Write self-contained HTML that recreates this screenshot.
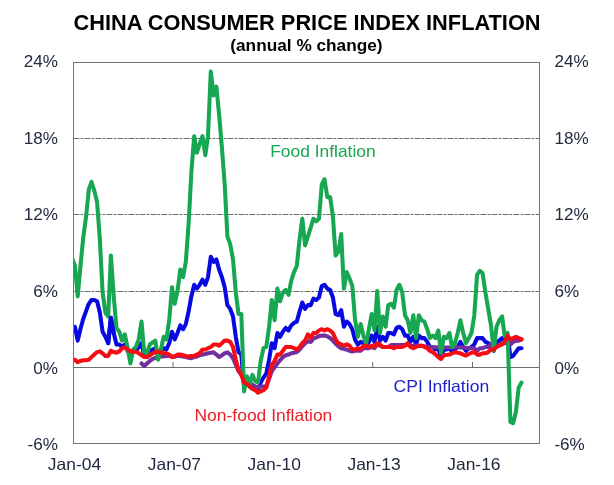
<!DOCTYPE html>
<html><head><meta charset="utf-8"><title>China Consumer Price Index Inflation</title>
<style>
html,body{margin:0;padding:0;background:#fff;}
svg{display:block}
text{font-family:"Liberation Sans",Arial,sans-serif;}
</style></head><body>
<svg width="614" height="485" viewBox="0 0 614 485">
<rect width="614" height="485" fill="#ffffff"/>

<line x1="73.5" x2="539.5" y1="138.5" y2="138.5" stroke="#6c6c6c" stroke-width="1" stroke-dasharray="5.9,1.2,2.7,1.2"/>
<line x1="73.5" x2="539.5" y1="214.5" y2="214.5" stroke="#6c6c6c" stroke-width="1" stroke-dasharray="5.9,1.2,2.7,1.2"/>
<line x1="73.5" x2="539.5" y1="291.5" y2="291.5" stroke="#6c6c6c" stroke-width="1" stroke-dasharray="5.9,1.2,2.7,1.2"/>
<line x1="73.5" x2="539.5" y1="367.5" y2="367.5" stroke="#6e6e6e" stroke-width="1"/>
<line x1="173.0" x2="173.0" y1="367.5" y2="362.0" stroke="#6a6a6a" stroke-width="1"/>
<line x1="272.8" x2="272.8" y1="367.5" y2="362.0" stroke="#6a6a6a" stroke-width="1"/>
<line x1="372.7" x2="372.7" y1="367.5" y2="362.0" stroke="#6a6a6a" stroke-width="1"/>
<line x1="472.5" x2="472.5" y1="367.5" y2="362.0" stroke="#6a6a6a" stroke-width="1"/>
<clipPath id="pc"><rect x="73.5" y="62.5" width="466.0" height="381.0"/></clipPath>
<g fill="none" stroke-width="4.05" stroke-linejoin="round" stroke-linecap="round" clip-path="url(#pc)">
<polyline stroke="#0808e0" points="72.1,326.7 74.9,326.7 77.7,340.6 80.4,329.2 83.2,319.0 86.0,311.4 88.8,303.8 91.5,300.0 94.3,300.0 97.1,301.3 99.9,312.7 102.6,331.7 105.4,336.8 108.2,343.2 110.9,317.8 113.7,333.0 116.5,344.4 119.3,344.4 122.0,347.0 124.8,344.4 127.6,350.8 130.4,355.9 133.1,352.1 135.9,350.8 138.7,347.0 141.5,343.2 144.2,355.9 147.0,357.1 149.8,352.1 152.6,349.5 155.3,348.2 158.1,354.6 160.9,350.8 163.6,348.2 166.4,349.5 169.2,343.2 172.0,331.7 174.7,339.4 177.5,333.0 180.3,325.4 183.1,329.2 185.8,324.1 188.6,311.4 191.4,296.2 194.2,284.8 196.9,288.6 199.7,284.8 202.5,279.7 205.3,284.8 208.0,277.1 210.8,256.8 213.6,261.9 216.4,259.4 219.1,269.5 221.9,277.1 224.7,287.3 227.4,305.1 230.2,308.9 233.0,316.5 235.8,336.8 238.5,352.1 241.3,354.6 244.1,387.6 246.9,382.5 249.6,386.4 252.4,385.1 255.2,388.9 258.0,390.2 260.7,382.5 263.5,377.5 266.3,373.7 269.1,359.7 271.8,343.2 274.6,348.2 277.4,333.0 280.1,336.8 282.9,331.7 285.7,327.9 288.5,330.5 291.2,325.4 294.0,322.9 296.8,321.6 299.6,311.4 302.3,302.5 305.1,308.9 307.9,305.1 310.7,305.1 313.4,298.7 316.2,300.0 319.0,297.5 321.8,286.0 324.5,284.8 327.3,288.6 330.1,289.8 332.9,297.5 335.6,314.0 338.4,315.2 341.2,310.2 343.9,326.7 346.7,321.6 349.5,324.1 352.3,329.2 355.0,339.4 357.8,344.4 360.6,341.9 363.4,343.2 366.1,345.7 368.9,341.9 371.7,335.6 374.5,341.9 377.2,326.7 380.0,340.6 382.8,336.8 385.6,340.6 388.3,333.0 391.1,333.0 393.9,334.3 396.6,327.9 399.4,326.7 402.2,329.2 405.0,335.6 407.7,335.6 410.5,341.9 413.3,336.8 416.1,344.4 418.8,335.6 421.6,338.1 424.4,338.1 427.2,341.9 429.9,347.0 432.7,347.0 435.5,349.5 438.3,348.2 441.0,357.1 443.8,349.5 446.6,349.5 449.4,348.2 452.1,352.1 454.9,349.5 457.7,347.0 460.4,341.9 463.2,347.0 466.0,350.8 468.8,348.2 471.5,347.0 474.3,344.4 477.1,338.1 479.9,338.1 482.6,338.1 485.4,341.9 488.2,343.2 491.0,344.4 493.7,350.8 496.5,343.2 499.3,340.6 502.1,338.1 504.8,340.6 507.6,335.6 510.4,357.1 513.1,355.9 515.9,352.1 518.7,348.2 521.5,348.2"/>
<polyline stroke="#7030a0" points="141.5,363.5 144.2,366.0 147.0,363.5 149.8,360.9 152.6,359.0 155.3,357.8 158.1,356.5 160.9,356.5 163.6,356.5 166.4,355.9 169.2,355.9 172.0,356.5 174.7,356.5 177.5,355.9 180.3,355.9 183.1,356.5 185.8,357.1 188.6,357.8 191.4,358.2 194.2,357.1 196.9,356.5 199.7,355.2 202.5,354.6 205.3,354.0 208.0,353.3 210.8,352.7 213.6,352.3 216.4,354.6 219.1,357.1 221.9,355.2 224.7,353.3 227.4,352.3 230.2,354.6 233.0,358.4 235.8,364.8 238.5,371.1 241.3,374.9 244.1,378.7 246.9,380.0 249.6,382.5 252.4,385.1 255.2,386.4 258.0,387.6 260.7,386.4 263.5,386.4 266.3,386.4 269.1,378.7 271.8,371.1 274.6,367.3 277.4,363.5 280.1,360.3 282.9,357.1 285.7,355.2 288.5,354.6 291.2,353.3 294.0,352.7 296.8,352.1 299.6,349.5 302.3,346.3 305.1,343.2 307.9,341.3 310.7,341.9 313.4,338.7 316.2,337.5 319.0,336.2 321.8,335.6 324.5,335.6 327.3,336.2 330.1,338.1 332.9,340.6 335.6,343.8 338.4,346.3 341.2,348.2 343.9,348.9 346.7,349.5 349.5,350.8 352.3,351.4 355.0,350.8 357.8,350.8 360.6,350.8 363.4,348.2 366.1,348.2 368.9,348.2 371.7,347.0 374.5,348.2 377.2,344.4 380.0,345.7 382.8,347.0 385.6,347.0 388.3,347.0 391.1,345.1 393.9,345.1 396.6,345.1 399.4,345.1 402.2,345.1 405.0,345.1 407.7,344.4 410.5,345.7 413.3,345.7 416.1,345.7 418.8,345.7 421.6,345.7 424.4,346.3 427.2,346.7 429.9,346.7 432.7,347.0 435.5,347.2 438.3,347.5 441.0,347.6 443.8,347.5 446.6,347.4 449.4,347.4 452.1,347.4 454.9,347.2 457.7,347.2 460.4,347.5 463.2,347.6 466.0,347.9 468.8,348.0 471.5,348.2 474.3,348.2 477.1,350.8 479.9,348.2 482.6,348.2 485.4,347.0 488.2,347.0 491.0,344.4 493.7,347.0 496.5,345.7 499.3,344.4 502.1,343.2 504.8,343.2 507.6,339.4 510.4,344.4 513.1,341.9 515.9,340.6 518.7,340.6 521.5,339.4"/>
<polyline stroke="#17a651" points="72.1,258.1 74.9,265.7 77.7,296.2 80.4,267.0 83.2,237.8 86.0,217.4 88.8,189.5 91.5,181.9 94.3,190.8 97.1,202.2 99.9,240.3 102.6,292.4 105.4,312.7 108.2,316.5 110.9,255.5 113.7,296.2 116.5,327.9 119.3,331.7 122.0,340.6 124.8,334.3 127.6,348.2 130.4,363.5 133.1,349.5 135.9,347.0 138.7,339.4 141.5,321.6 144.2,352.1 147.0,353.3 149.8,344.4 152.6,342.5 155.3,340.6 158.1,359.7 160.9,349.5 163.6,336.8 166.4,339.4 169.2,320.3 172.0,287.3 174.7,303.8 177.5,291.1 180.3,269.5 183.1,277.1 185.8,261.9 188.6,223.8 191.4,171.7 194.2,136.2 196.9,152.7 199.7,143.8 202.5,136.2 205.3,155.2 208.0,136.2 210.8,71.4 213.6,95.5 216.4,86.6 219.1,114.6 221.9,147.6 224.7,184.4 227.4,236.5 230.2,244.1 233.0,259.4 235.8,292.4 238.5,314.0 241.3,314.0 244.1,391.4 246.9,376.2 249.6,383.8 252.4,374.9 255.2,381.3 258.0,382.5 260.7,360.9 263.5,348.2 266.3,347.0 269.1,326.7 271.8,300.0 274.6,320.3 277.4,288.6 280.1,301.3 282.9,292.4 285.7,289.8 288.5,294.9 291.2,280.9 294.0,272.1 296.8,265.7 299.6,239.0 302.3,218.7 305.1,245.4 307.9,236.5 310.7,227.6 313.4,218.7 316.2,221.3 319.0,218.7 321.8,184.4 324.5,179.3 327.3,197.1 330.1,197.1 332.9,216.2 335.6,255.5 338.4,251.7 341.2,234.0 343.9,288.6 346.7,272.1 349.5,278.4 352.3,286.0 355.0,319.0 357.8,336.8 360.6,324.1 363.4,335.6 366.1,344.4 368.9,329.2 371.7,314.0 374.5,330.5 377.2,291.1 380.0,333.0 382.8,316.5 385.6,326.7 388.3,305.1 391.1,303.8 393.9,307.6 396.6,289.8 399.4,284.8 402.2,292.4 405.0,315.2 407.7,320.3 410.5,333.0 413.3,315.2 416.1,338.1 418.8,315.2 421.6,320.3 424.4,321.6 427.2,329.2 429.9,338.1 432.7,335.6 435.5,338.1 438.3,330.5 441.0,353.3 443.8,336.8 446.6,338.1 449.4,333.0 452.1,347.0 454.9,343.2 457.7,333.0 460.4,320.3 463.2,333.0 466.0,343.2 468.8,338.1 471.5,333.0 474.3,315.2 477.1,274.6 479.9,270.8 482.6,273.3 485.4,292.4 488.2,308.9 491.0,325.4 493.7,350.8 496.5,326.7 499.3,320.3 502.1,316.5 504.8,336.8 507.6,333.0 510.4,421.9 513.1,423.2 515.9,411.8 518.7,387.6 521.5,382.5"/>
<polyline stroke="#0808e0" points="108.2,343.2 110.9,317.8 113.7,333.0"/>
<polyline stroke="#f60d14" points="72.1,359.7 74.9,359.7 77.7,362.2 80.4,360.9 83.2,360.3 86.0,360.3 88.8,359.7 91.5,357.1 94.3,354.6 97.1,352.1 99.9,351.4 102.6,353.3 105.4,355.9 108.2,355.9 110.9,350.8 113.7,352.1 116.5,352.7 119.3,351.4 122.0,348.2 124.8,347.6 127.6,349.5 130.4,351.2 133.1,351.7 135.9,351.7 138.7,353.1 141.5,355.2 144.2,357.1 147.0,356.9 149.8,355.4 152.6,353.3 155.3,352.1 158.1,351.4 160.9,352.7 163.6,353.3 166.4,353.3 169.2,354.6 172.0,357.1 174.7,356.5 177.5,354.6 180.3,354.6 183.1,355.2 185.8,355.9 188.6,356.5 191.4,355.9 194.2,355.9 196.9,354.6 199.7,353.3 202.5,349.5 205.3,349.5 208.0,348.2 210.8,347.0 213.6,344.4 216.4,344.4 219.1,345.7 221.9,343.2 224.7,340.6 227.4,340.6 230.2,341.9 233.0,347.0 235.8,359.7 238.5,369.8 241.3,374.9 244.1,382.5 246.9,383.8 249.6,386.4 252.4,388.9 255.2,390.2 258.0,392.7 260.7,391.4 263.5,390.2 266.3,387.6 269.1,376.2 271.8,364.8 274.6,360.9 277.4,354.6 280.1,354.6 282.9,350.8 285.7,347.0 288.5,347.0 291.2,347.0 294.0,348.2 296.8,349.5 299.6,347.0 302.3,343.2 305.1,340.6 307.9,334.3 310.7,338.1 313.4,333.0 316.2,333.0 319.0,330.5 321.8,329.2 324.5,330.5 327.3,329.2 330.1,330.5 332.9,333.0 335.6,339.4 338.4,343.2 341.2,344.4 343.9,345.7 346.7,344.4 349.5,345.7 352.3,349.5 355.0,349.5 357.8,348.2 360.6,349.5 363.4,345.7 366.1,345.7 368.9,347.0 371.7,345.7 374.5,347.0 377.2,343.2 380.0,344.4 382.8,347.0 385.6,347.0 388.3,347.0 391.1,347.0 393.9,348.2 396.6,347.0 399.4,347.0 402.2,347.0 405.0,345.7 407.7,343.2 410.5,347.0 413.3,348.2 416.1,347.0 418.8,345.7 421.6,345.7 424.4,347.0 427.2,348.2 429.9,350.8 432.7,352.1 435.5,354.6 438.3,357.1 441.0,359.0 443.8,355.2 446.6,354.9 449.4,354.6 452.1,353.3 454.9,352.3 457.7,352.7 460.4,353.3 463.2,354.6 466.0,355.6 468.8,354.0 471.5,352.7 474.3,352.1 477.1,354.6 479.9,354.6 482.6,353.3 485.4,353.3 488.2,352.1 491.0,349.5 493.7,349.5 496.5,347.0 499.3,345.7 502.1,344.4 504.8,341.9 507.6,335.6 510.4,339.4 513.1,338.1 515.9,336.8 518.7,338.1 521.5,339.4"/>
</g>
<rect x="73.5" y="62.5" width="466.0" height="381.0" fill="none" stroke="#767676" stroke-width="1"/>
<text x="73.6" y="29.6" font-size="21.2" font-weight="bold" fill="#000" textLength="467" lengthAdjust="spacingAndGlyphs">CHINA CONSUMER PRICE INDEX INFLATION</text>
<text x="230.3" y="51.1" font-size="15.7" font-weight="bold" fill="#000" textLength="152.3" lengthAdjust="spacingAndGlyphs">(annual % change)</text>
<text transform="translate(57.9 67.1) scale(1.050 1)" text-anchor="end" font-size="16.3" fill="#222a40">24%</text>
<text transform="translate(554.4 67.1) scale(1.050 1)" text-anchor="start" font-size="16.3" fill="#222a40">24%</text>
<text transform="translate(57.9 143.7) scale(1.050 1)" text-anchor="end" font-size="16.3" fill="#222a40">18%</text>
<text transform="translate(554.4 143.7) scale(1.050 1)" text-anchor="start" font-size="16.3" fill="#222a40">18%</text>
<text transform="translate(57.9 220.3) scale(1.050 1)" text-anchor="end" font-size="16.3" fill="#222a40">12%</text>
<text transform="translate(554.4 220.3) scale(1.050 1)" text-anchor="start" font-size="16.3" fill="#222a40">12%</text>
<text transform="translate(57.9 296.9) scale(1.050 1)" text-anchor="end" font-size="16.3" fill="#222a40">6%</text>
<text transform="translate(554.4 296.9) scale(1.050 1)" text-anchor="start" font-size="16.3" fill="#222a40">6%</text>
<text transform="translate(57.9 373.5) scale(1.050 1)" text-anchor="end" font-size="16.3" fill="#222a40">0%</text>
<text transform="translate(554.4 373.5) scale(1.050 1)" text-anchor="start" font-size="16.3" fill="#222a40">0%</text>
<text transform="translate(57.9 450.2) scale(1.050 1)" text-anchor="end" font-size="16.3" fill="#222a40">-6%</text>
<text transform="translate(554.4 450.2) scale(1.050 1)" text-anchor="start" font-size="16.3" fill="#222a40">-6%</text>
<text transform="translate(74.5 470.4) scale(1.070 1)" text-anchor="middle" font-size="16.3" fill="#222a40">Jan-04</text>
<text transform="translate(174.4 470.4) scale(1.070 1)" text-anchor="middle" font-size="16.3" fill="#222a40">Jan-07</text>
<text transform="translate(274.2 470.4) scale(1.070 1)" text-anchor="middle" font-size="16.3" fill="#222a40">Jan-10</text>
<text transform="translate(374.1 470.4) scale(1.070 1)" text-anchor="middle" font-size="16.3" fill="#222a40">Jan-13</text>
<text transform="translate(473.9 470.4) scale(1.070 1)" text-anchor="middle" font-size="16.3" fill="#222a40">Jan-16</text>
<text x="270.2" y="156.8" font-size="16.7" fill="#17a651" textLength="105.5" lengthAdjust="spacingAndGlyphs">Food Inflation</text>
<text x="393.5" y="391.5" font-size="16.7" fill="#2020cc" textLength="95.7" lengthAdjust="spacingAndGlyphs">CPI Inflation</text>
<text x="194.5" y="420.7" font-size="16.7" fill="#e8202a" textLength="137.8" lengthAdjust="spacingAndGlyphs">Non-food Inflation</text>
</svg>
</body></html>
